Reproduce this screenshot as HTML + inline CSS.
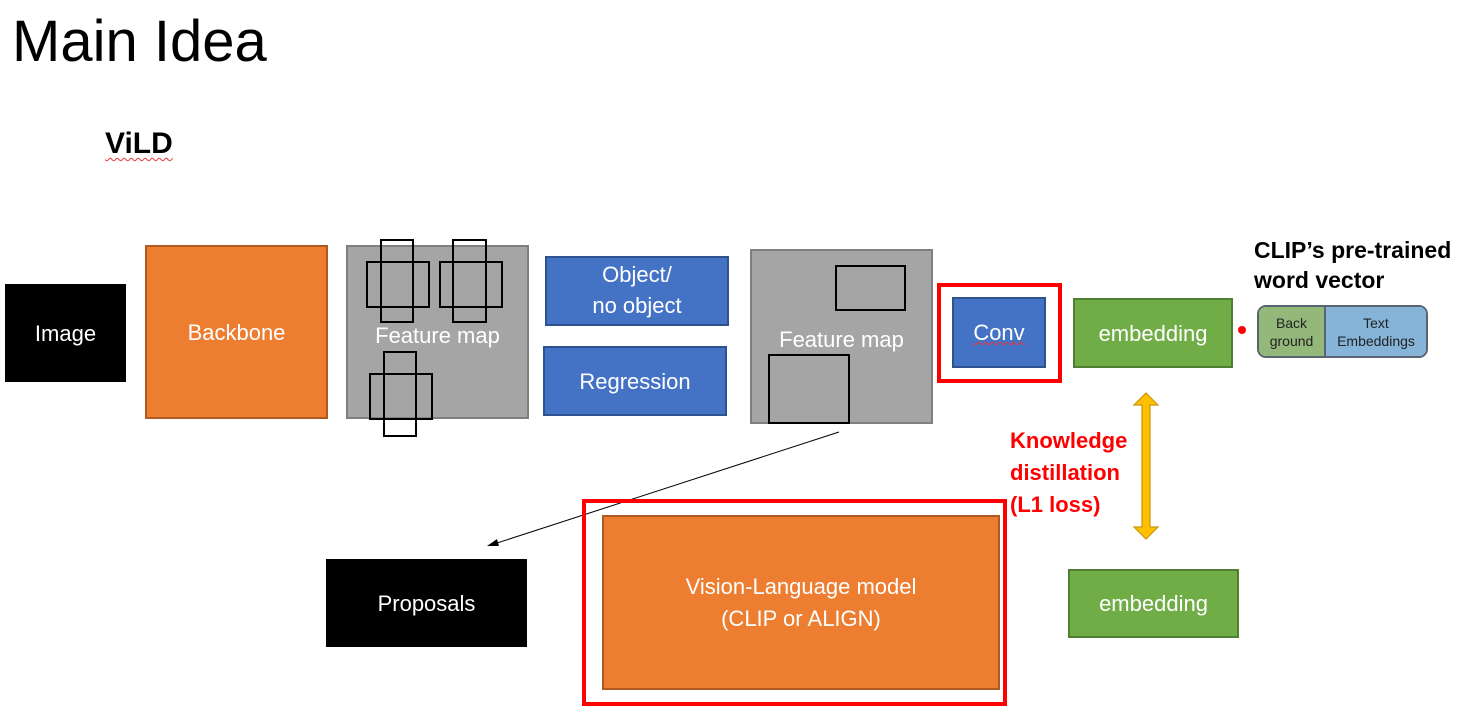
<!DOCTYPE html>
<html><head><meta charset="utf-8"><style>
body{margin:0;width:1461px;height:716px;background:#fff;position:relative;overflow:hidden;font-family:"Liberation Sans",sans-serif}
.b{position:absolute;box-sizing:border-box;display:flex;align-items:center;justify-content:center;text-align:center;color:#fff;font-size:22px;line-height:1.5}
.o{background:#ed7d31;border:2px solid #ae5a21}
.g{background:#a5a5a5;border:2px solid #7f7f7f}
.bl{background:#4472c4;border:2px solid #2f528f}
.gr{background:#70ad47;border:2px solid #507e32}
.k{background:#000}
.r{position:absolute;box-sizing:border-box;border:2.5px solid #000}
.red{position:absolute;box-sizing:border-box;border:4px solid #f00}
.t{position:absolute;white-space:nowrap}
</style></head><body>
<div class="t" style="left:12px;top:8px;font-size:58px;color:#000">Main Idea</div>
<div class="t" style="left:105px;top:127px;font-size:30px;font-weight:bold;text-decoration:underline wavy #e33 1px;text-underline-offset:4px">ViLD</div>

<div class="b k" style="left:5px;top:284px;width:121px;height:98px">Image</div>
<div class="b o" style="left:145px;top:245px;width:183px;height:174px">Backbone</div>
<div class="b g" style="left:346px;top:245px;width:183px;height:174px;align-items:flex-start;padding-top:72px">Feature map</div>
<div class="r" style="left:380px;top:239px;width:34px;height:84px"></div>
<div class="r" style="left:366px;top:261px;width:64px;height:47px"></div>
<div class="r" style="left:452px;top:239px;width:35px;height:84px"></div>
<div class="r" style="left:439px;top:261px;width:64px;height:47px"></div>
<div class="r" style="left:383px;top:351px;width:34px;height:86px"></div>
<div class="r" style="left:369px;top:373px;width:64px;height:47px"></div>

<div class="b bl" style="left:545px;top:256px;width:184px;height:70px;line-height:1.4">Object/<br>no object</div>
<div class="b bl" style="left:543px;top:346px;width:184px;height:70px">Regression</div>

<div class="b g" style="left:750px;top:249px;width:183px;height:175px;align-items:flex-start;padding-top:72px">Feature map</div>
<div class="r" style="left:835px;top:265px;width:71px;height:46px"></div>
<div class="r" style="left:768px;top:354px;width:82px;height:70px"></div>

<div class="red" style="left:937px;top:283px;width:125px;height:100px"></div>
<div class="b bl" style="left:952px;top:297px;width:94px;height:71px"><span style="text-decoration:underline wavy #e33 1px">Conv</span></div>
<div class="b gr" style="left:1073px;top:298px;width:160px;height:70px">embedding</div>
<div style="position:absolute;left:1238px;top:326px;width:8px;height:8px;border-radius:50%;background:#f00"></div>

<div class="t" style="left:1254px;top:235px;font-size:23px;font-weight:bold;line-height:30px">CLIP’s pre-trained<br>word vector</div>
<div style="position:absolute;left:1257px;top:305px;width:171px;height:53px;box-sizing:border-box;border:2px solid #5a6470;border-radius:9px;overflow:hidden;display:flex;font-size:14px;color:#222;line-height:18px">
<div style="width:65px;background:#93b87a;border-right:2px solid #5a6470;display:flex;align-items:center;justify-content:center;text-align:center">Back<br>ground</div>
<div style="flex:1;background:#86b4d8;display:flex;align-items:center;justify-content:center;text-align:center">Text<br>Embeddings</div>
</div>

<svg style="position:absolute;left:0;top:0" width="1461" height="716">
<line x1="839" y1="432" x2="494" y2="544" stroke="#000" stroke-width="1"/>
<polygon points="487,546 497,539 499,546" fill="#000"/>
<polygon points="1146,393 1158,405 1150,405 1150,527 1158,527 1146,539 1134,527 1142,527 1142,405 1134,405" fill="#ffc000" stroke="#c8960c" stroke-width="1.2"/>
</svg>

<div class="t" style="left:1010px;top:425px;font-size:22px;font-weight:bold;color:#f00;line-height:32px">Knowledge<br>distillation<br>(L1 loss)</div>

<div class="b k" style="left:326px;top:559px;width:201px;height:88px">Proposals</div>
<div class="red" style="left:582px;top:499px;width:425px;height:207px"></div>
<div class="b o" style="left:602px;top:515px;width:398px;height:175px;line-height:1.45">Vision-Language model<br>(CLIP or ALIGN)</div>
<div class="b gr" style="left:1068px;top:569px;width:171px;height:69px">embedding</div>
</body></html>
